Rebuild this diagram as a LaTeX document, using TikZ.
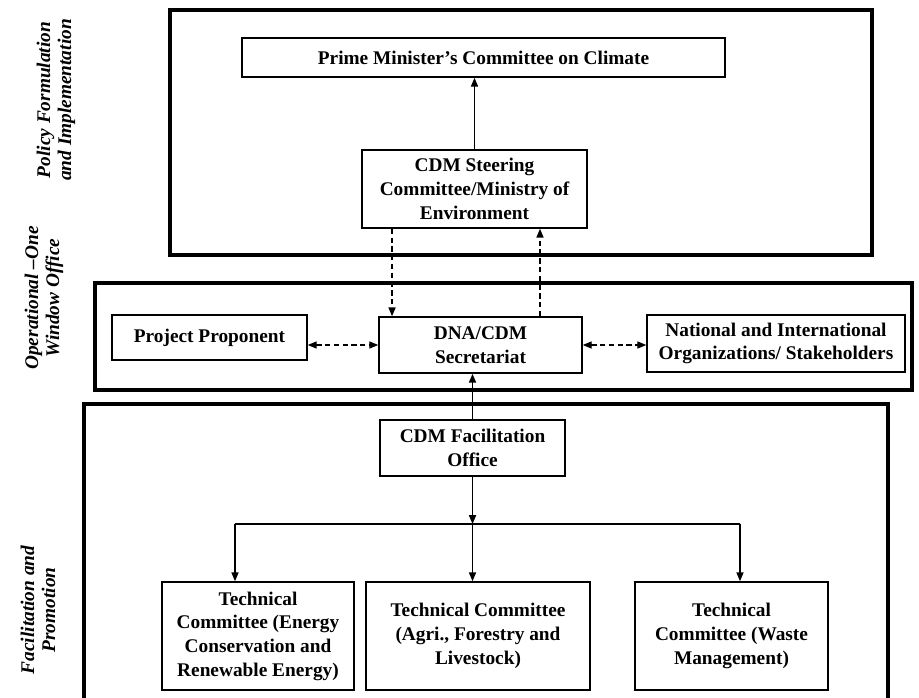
\documentclass[tikz,border=0pt]{standalone}
\usepackage{fontspec}
\setmainfont{Liberation Serif}
\usetikzlibrary{arrows.meta, calc}
\tikzset{
  frame/.style={line width=2.8pt, black},
  box/.style={rectangle, draw, line width=0.9pt, inner sep=2pt,
              align=center, font=\fontsize{11}{13.5}\selectfont\bfseries},
  side lbl/.style={rotate=90, align=center,
                   font=\fontsize{11}{12}\selectfont\bfseries\itshape},
  arr/.style={-{Triangle[length=5pt, width=4pt]}, line width=0.8pt},
  dash arr/.style={arr, densely dashed},
  both arr/.style={{Triangle[length=5pt, width=4pt]}-{Triangle[length=5pt, width=4pt]},
                   line width=0.6pt, densely dashed},
}

\begin{document}
\begin{tikzpicture}[x=0.02cm, y=-0.02cm]
    \useasboundingbox (0,0) rectangle (919,697);

    % frames
    \draw[frame] (170,10) rectangle (872,255);
    \draw[frame] (95,283) rectangle (912,390);
    \draw[frame] (84,705) -- (84,404) -- (888,404) -- (888,705);

    % side labels
    \node[side lbl] (policy) at (56,100) {Policy Formulation\\and Implementation};
    \node[side lbl] (oper) at (44,298) {Operational --One\\Window Office};
    \node[side lbl] (facil) at (38,610) {Facilitation and\\Promotion};

    % policy level
    \node[box, minimum width=9.66cm, minimum height=0.78cm] (pm) at (483.5,57.5) {Prime Minister's Committee on Climate};
    \node[box, minimum width=4.5cm, minimum height=1.56cm] (steer) at (474.5,189) {CDM Steering\\Committee/Ministry of\\Environment};

    % operational level
    \node[box, minimum width=3.9cm, minimum height=0.9cm] (pp) at (209.5,337.5) {Project Proponent};
    \node[box, minimum width=4.06cm, minimum height=1.12cm] (dna) at (480.5,345) {DNA/CDM\\Secretariat};
    \node[box, minimum width=5.16cm, minimum height=1.14cm] (nat) at (776,343.5) {National and International\\Organizations/ Stakeholders};

    % facilitation level
    \node[box, minimum width=3.7cm, minimum height=1.12cm] (fac) at (472.5,448) {CDM Facilitation\\Office};
    \node[box, minimum width=3.84cm, minimum height=2.16cm] (tc1) at (258,636) {Technical\\Committee (Energy\\Conservation and\\Renewable Energy)};
    \node[box, minimum width=4.48cm, minimum height=2.16cm] (tc2) at (478,636) {Technical Committee\\(Agri., Forestry and\\Livestock)};
    \node[box, minimum width=3.86cm, minimum height=2.16cm] (tc3) at (731.5,636) {Technical\\Committee (Waste\\Management)};

    \coordinate (b1) at (235,524);
    \coordinate (b2) at (472.5,524);
    \coordinate (b3) at (740,524);

    \draw[arr] (steer.north) -- (steer.north |- pm.south);
    \draw[dash arr] ([xshift=-1.65cm]steer.south) -- ([xshift=-1.65cm]steer.south |- dna.north);
    \draw[dash arr] ([xshift=1.31cm]steer.south |- dna.north) -- ([xshift=1.31cm]steer.south);
    \draw[both arr] (dna.west -| pp.east) -- (dna.west);
    \draw[both arr] (dna.east) -- (dna.east -| nat.west);
    \draw[arr] (fac.north) -- (fac.north |- dna.south);
    \draw[arr] (fac.south) -- (b2);
    \draw[line width=0.8pt] (b1) -- (b3);
    \draw[arr] (b1) -- (b1 |- tc1.north);
    \draw[arr] (b2) -- (b2 |- tc2.north);
    \draw[arr] (b3) -- (b3 |- tc3.north);
\end{tikzpicture}
\end{document}
